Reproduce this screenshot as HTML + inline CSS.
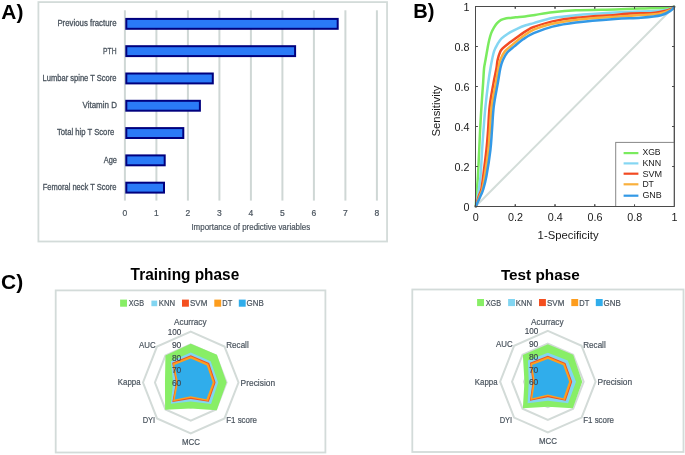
<!DOCTYPE html>
<html><head><meta charset="utf-8"><style>
html,body{margin:0;padding:0;background:#fff;width:685px;height:455px;overflow:hidden}
svg{display:block;filter:blur(0.35px);font-family:"Liberation Sans", sans-serif}
</style></head><body>
<svg width="685" height="455" viewBox="0 0 685 455">
<rect width="685" height="455" fill="#fff"/>
<text x="1.30" y="18.90" font-size="21" fill="#000" text-anchor="start" font-weight="bold" textLength="22.10" lengthAdjust="spacingAndGlyphs">A)</text>
<rect x="38.4" y="2.1" width="348.65" height="239.4" fill="#fff" stroke="#d3dbd9" stroke-width="1.8"/>
<line x1="124.90" y1="10.3" x2="124.90" y2="200.6" stroke="#cfd7d5" stroke-width="2"/>
<line x1="156.40" y1="10.3" x2="156.40" y2="200.6" stroke="#cfd7d5" stroke-width="2"/>
<line x1="187.90" y1="10.3" x2="187.90" y2="200.6" stroke="#cfd7d5" stroke-width="2"/>
<line x1="219.40" y1="10.3" x2="219.40" y2="200.6" stroke="#cfd7d5" stroke-width="2"/>
<line x1="250.90" y1="10.3" x2="250.90" y2="200.6" stroke="#cfd7d5" stroke-width="2"/>
<line x1="282.40" y1="10.3" x2="282.40" y2="200.6" stroke="#cfd7d5" stroke-width="2"/>
<line x1="313.90" y1="10.3" x2="313.90" y2="200.6" stroke="#cfd7d5" stroke-width="2"/>
<line x1="345.40" y1="10.3" x2="345.40" y2="200.6" stroke="#cfd7d5" stroke-width="2"/>
<line x1="376.90" y1="10.3" x2="376.90" y2="200.6" stroke="#cfd7d5" stroke-width="2"/>
<rect x="126.30" y="18.90" width="211.40" height="9.90" fill="#2a7af7" stroke="#00007e" stroke-width="2"/>
<rect x="126.30" y="46.20" width="168.80" height="9.90" fill="#2a7af7" stroke="#00007e" stroke-width="2"/>
<rect x="126.30" y="73.50" width="86.50" height="9.90" fill="#2a7af7" stroke="#00007e" stroke-width="2"/>
<rect x="126.30" y="100.80" width="73.60" height="9.90" fill="#2a7af7" stroke="#00007e" stroke-width="2"/>
<rect x="126.30" y="128.10" width="57.00" height="9.90" fill="#2a7af7" stroke="#00007e" stroke-width="2"/>
<rect x="126.30" y="155.40" width="38.40" height="9.90" fill="#2a7af7" stroke="#00007e" stroke-width="2"/>
<rect x="126.30" y="182.70" width="37.70" height="9.90" fill="#2a7af7" stroke="#00007e" stroke-width="2"/>
<text x="57.40" y="26.40" font-size="8.5" fill="#4a545e" text-anchor="start" textLength="59.10" lengthAdjust="spacingAndGlyphs" stroke="#4a545e" stroke-width="0.3">Previous fracture</text>
<text x="103.10" y="53.80" font-size="8.5" fill="#4a545e" text-anchor="start" textLength="13.40" lengthAdjust="spacingAndGlyphs" stroke="#4a545e" stroke-width="0.3">PTH</text>
<text x="42.60" y="81.10" font-size="8.5" fill="#4a545e" text-anchor="start" textLength="73.90" lengthAdjust="spacingAndGlyphs" stroke="#4a545e" stroke-width="0.3">Lumbar spine T Score</text>
<text x="82.50" y="108.30" font-size="8.5" fill="#4a545e" text-anchor="start" textLength="34.40" lengthAdjust="spacingAndGlyphs" stroke="#4a545e" stroke-width="0.3">Vitamin D</text>
<text x="57.00" y="135.20" font-size="8.5" fill="#4a545e" text-anchor="start" textLength="57.20" lengthAdjust="spacingAndGlyphs" stroke="#4a545e" stroke-width="0.3">Total hip T Score</text>
<text x="103.70" y="163.00" font-size="8.5" fill="#4a545e" text-anchor="start" textLength="13.20" lengthAdjust="spacingAndGlyphs" stroke="#4a545e" stroke-width="0.3">Age</text>
<text x="42.70" y="190.10" font-size="8.5" fill="#4a545e" text-anchor="start" textLength="73.80" lengthAdjust="spacingAndGlyphs" stroke="#4a545e" stroke-width="0.3">Femoral neck T Score</text>
<text x="124.90" y="216.00" font-size="8.5" fill="#4a545e" text-anchor="middle" stroke="#4a545e" stroke-width="0.2">0</text>
<text x="156.40" y="216.00" font-size="8.5" fill="#4a545e" text-anchor="middle" stroke="#4a545e" stroke-width="0.2">1</text>
<text x="187.90" y="216.00" font-size="8.5" fill="#4a545e" text-anchor="middle" stroke="#4a545e" stroke-width="0.2">2</text>
<text x="219.40" y="216.00" font-size="8.5" fill="#4a545e" text-anchor="middle" stroke="#4a545e" stroke-width="0.2">3</text>
<text x="250.90" y="216.00" font-size="8.5" fill="#4a545e" text-anchor="middle" stroke="#4a545e" stroke-width="0.2">4</text>
<text x="282.40" y="216.00" font-size="8.5" fill="#4a545e" text-anchor="middle" stroke="#4a545e" stroke-width="0.2">5</text>
<text x="313.90" y="216.00" font-size="8.5" fill="#4a545e" text-anchor="middle" stroke="#4a545e" stroke-width="0.2">6</text>
<text x="345.40" y="216.00" font-size="8.5" fill="#4a545e" text-anchor="middle" stroke="#4a545e" stroke-width="0.2">7</text>
<text x="376.90" y="216.00" font-size="8.5" fill="#4a545e" text-anchor="middle" stroke="#4a545e" stroke-width="0.2">8</text>
<text x="191.40" y="230.30" font-size="8.7" fill="#4a545e" text-anchor="start" textLength="118.80" lengthAdjust="spacingAndGlyphs" stroke="#4a545e" stroke-width="0.2">Importance of predictive variables</text>
<text x="413.30" y="17.90" font-size="21" fill="#000" text-anchor="start" font-weight="bold" textLength="21.20" lengthAdjust="spacingAndGlyphs">B)</text>
<line x1="475.5" y1="206.5" x2="674.3" y2="6.5" stroke="#d3ddd9" stroke-width="2"/>
<g fill="none" stroke-width="2.5" stroke-linejoin="round" stroke-linecap="round">
<path d="M475.80,206.30 C475.90,204.58 476.05,201.00 476.40,196.00 C476.75,191.00 477.43,183.97 477.90,176.30 C478.37,168.63 478.83,157.72 479.20,150.00 C479.57,142.28 479.72,137.30 480.10,130.00 C480.48,122.70 481.00,114.02 481.50,106.20 C482.00,98.38 482.67,89.47 483.10,83.10 C483.53,76.73 483.70,71.85 484.10,68.00 C484.50,64.15 484.92,63.33 485.50,60.00 C486.08,56.67 486.98,51.33 487.60,48.00 C488.22,44.67 488.60,42.48 489.20,40.00 C489.80,37.52 490.43,35.13 491.20,33.10 C491.97,31.07 492.82,29.45 493.80,27.80 C494.78,26.15 495.88,24.52 497.10,23.20 C498.32,21.88 499.55,20.73 501.10,19.90 C502.65,19.07 504.92,18.53 506.40,18.20 C507.88,17.87 508.43,18.07 510.00,17.90 C511.57,17.73 513.30,17.45 515.80,17.20 C518.30,16.95 521.80,16.78 525.00,16.40 C528.20,16.02 530.42,15.60 535.00,14.90 C539.58,14.20 545.68,12.97 552.50,12.20 C559.32,11.43 565.48,10.77 575.90,10.30 C586.32,9.83 604.20,9.68 615.00,9.40 C625.80,9.12 632.17,8.85 640.70,8.60 C649.23,8.35 660.65,8.20 666.20,7.90 C671.75,7.60 672.70,6.98 674.00,6.80" stroke="#7aeb5e"/>
<path d="M475.80,206.30 C476.15,204.58 477.12,201.00 477.90,196.00 C478.68,191.00 479.80,183.97 480.50,176.30 C481.20,168.63 481.60,157.72 482.10,150.00 C482.60,142.28 482.93,137.30 483.50,130.00 C484.07,122.70 484.72,114.02 485.50,106.20 C486.28,98.38 487.37,89.47 488.20,83.10 C489.03,76.73 489.65,72.85 490.50,68.00 C491.35,63.15 492.48,57.32 493.30,54.00 C494.12,50.68 494.28,50.40 495.40,48.10 C496.52,45.80 498.40,42.25 500.00,40.20 C501.60,38.15 503.33,37.10 505.00,35.80 C506.67,34.50 508.00,33.57 510.00,32.40 C512.00,31.23 514.37,29.98 517.00,28.80 C519.63,27.62 523.02,26.25 525.80,25.30 C528.58,24.35 529.25,24.30 533.70,23.10 C538.15,21.90 545.47,19.40 552.50,18.10 C559.53,16.80 565.48,16.22 575.90,15.30 C586.32,14.38 604.20,13.25 615.00,12.60 C625.80,11.95 633.87,11.67 640.70,11.40 C647.53,11.13 651.92,11.25 656.00,11.00 C660.08,10.75 662.48,10.38 665.20,9.90 C667.92,9.42 670.83,8.62 672.30,8.10 C673.77,7.58 673.72,7.02 674.00,6.80" stroke="#84d6f2"/>
<path d="M475.80,206.30 C476.32,204.58 477.98,198.80 478.90,196.00 C479.82,193.20 480.58,192.78 481.30,189.50 C482.02,186.22 482.35,182.88 483.20,176.30 C484.05,169.72 485.58,157.72 486.40,150.00 C487.22,142.28 487.55,137.30 488.10,130.00 C488.65,122.70 488.80,114.02 489.70,106.20 C490.60,98.38 492.37,89.47 493.50,83.10 C494.63,76.73 495.82,71.85 496.50,68.00 C497.18,64.15 496.97,62.73 497.60,60.00 C498.23,57.27 499.42,53.58 500.30,51.60 C501.18,49.62 501.58,49.42 502.90,48.10 C504.22,46.78 506.30,45.17 508.20,43.70 C510.10,42.23 512.10,40.90 514.30,39.30 C516.50,37.70 519.05,35.70 521.40,34.10 C523.75,32.50 526.35,30.88 528.40,29.70 C530.45,28.52 529.68,28.38 533.70,27.00 C537.72,25.62 545.47,22.93 552.50,21.40 C559.53,19.87 565.48,18.88 575.90,17.80 C586.32,16.72 605.92,15.62 615.00,14.90 C624.08,14.18 624.42,13.78 630.40,13.50 C636.38,13.22 645.78,13.50 650.90,13.20 C656.02,12.90 657.70,12.42 661.10,11.70 C664.50,10.98 669.15,9.72 671.30,8.90 C673.45,8.08 673.55,7.15 674.00,6.80" stroke="#f24a22"/>
<path d="M475.80,206.30 C476.45,204.58 478.62,198.80 479.70,196.00 C480.78,193.20 481.47,192.78 482.30,189.50 C483.13,186.22 483.68,182.88 484.70,176.30 C485.72,169.72 487.53,157.72 488.40,150.00 C489.27,142.28 489.35,137.30 489.90,130.00 C490.45,122.70 490.72,114.02 491.70,106.20 C492.68,98.38 494.68,89.47 495.80,83.10 C496.92,76.73 497.65,71.85 498.40,68.00 C499.15,64.15 499.25,62.73 500.30,60.00 C501.35,57.27 502.65,54.17 504.70,51.60 C506.75,49.03 509.82,46.93 512.60,44.60 C515.38,42.27 517.88,40.08 521.40,37.60 C524.92,35.12 528.52,32.02 533.70,29.70 C538.88,27.38 545.47,25.33 552.50,23.70 C559.53,22.07 565.48,21.07 575.90,19.90 C586.32,18.73 604.20,17.50 615.00,16.70 C625.80,15.90 633.37,15.60 640.70,15.10 C648.03,14.60 653.90,14.62 659.00,13.70 C664.10,12.78 668.80,10.75 671.30,9.60 C673.80,8.45 673.55,7.27 674.00,6.80" stroke="#f9b03c"/>
<path d="M475.80,206.30 C476.58,204.58 479.27,198.80 480.50,196.00 C481.73,193.20 482.22,192.78 483.20,189.50 C484.18,186.22 485.20,182.88 486.40,176.30 C487.60,169.72 489.47,157.72 490.40,150.00 C491.33,142.28 491.43,137.30 492.00,130.00 C492.57,122.70 492.83,114.02 493.80,106.20 C494.77,98.38 496.70,89.47 497.80,83.10 C498.90,76.73 499.55,71.85 500.40,68.00 C501.25,64.15 501.75,62.58 502.90,60.00 C504.05,57.42 505.40,54.77 507.30,52.50 C509.20,50.23 511.67,48.60 514.30,46.40 C516.93,44.20 519.87,41.50 523.10,39.30 C526.33,37.10 528.80,35.32 533.70,33.20 C538.60,31.08 545.47,28.38 552.50,26.60 C559.53,24.82 565.48,23.77 575.90,22.50 C586.32,21.23 604.20,19.78 615.00,19.00 C625.80,18.22 633.02,18.42 640.70,17.80 C648.38,17.18 656.00,16.57 661.10,15.30 C666.20,14.03 669.15,11.62 671.30,10.20 C673.45,8.78 673.55,7.37 674.00,6.80" stroke="#3399e6"/>
</g>
<rect x="475.5" y="6.5" width="198.8" height="200.0" fill="none" stroke="#4a4a4a" stroke-width="1"/>
<path d="M515.26,206.5 v-2.2 M515.26,6.5 v2.2 M475.5,166.50 h2.2 M674.3,166.50 h-2.2 M555.02,206.5 v-2.2 M555.02,6.5 v2.2 M475.5,126.50 h2.2 M674.3,126.50 h-2.2 M594.78,206.5 v-2.2 M594.78,6.5 v2.2 M475.5,86.50 h2.2 M674.3,86.50 h-2.2 M634.54,206.5 v-2.2 M634.54,6.5 v2.2 M475.5,46.50 h2.2 M674.3,46.50 h-2.2" stroke="#4a4a4a" stroke-width="1" fill="none"/>
<text x="463.40" y="210.90" font-size="10.3" fill="#1a1a1a" text-anchor="start" textLength="6.00" lengthAdjust="spacingAndGlyphs">0</text>
<text x="472.80" y="220.80" font-size="10.3" fill="#1a1a1a" text-anchor="start" textLength="6.00" lengthAdjust="spacingAndGlyphs">0</text>
<text x="454.40" y="170.90" font-size="10.3" fill="#1a1a1a" text-anchor="start" textLength="15.00" lengthAdjust="spacingAndGlyphs">0.2</text>
<text x="508.06" y="220.80" font-size="10.3" fill="#1a1a1a" text-anchor="start" textLength="15.00" lengthAdjust="spacingAndGlyphs">0.2</text>
<text x="454.40" y="130.90" font-size="10.3" fill="#1a1a1a" text-anchor="start" textLength="15.00" lengthAdjust="spacingAndGlyphs">0.4</text>
<text x="547.82" y="220.80" font-size="10.3" fill="#1a1a1a" text-anchor="start" textLength="15.00" lengthAdjust="spacingAndGlyphs">0.4</text>
<text x="454.40" y="90.90" font-size="10.3" fill="#1a1a1a" text-anchor="start" textLength="15.00" lengthAdjust="spacingAndGlyphs">0.6</text>
<text x="587.58" y="220.80" font-size="10.3" fill="#1a1a1a" text-anchor="start" textLength="15.00" lengthAdjust="spacingAndGlyphs">0.6</text>
<text x="454.40" y="50.90" font-size="10.3" fill="#1a1a1a" text-anchor="start" textLength="15.00" lengthAdjust="spacingAndGlyphs">0.8</text>
<text x="627.34" y="220.80" font-size="10.3" fill="#1a1a1a" text-anchor="start" textLength="15.00" lengthAdjust="spacingAndGlyphs">0.8</text>
<text x="463.40" y="10.90" font-size="10.3" fill="#1a1a1a" text-anchor="start" textLength="6.00" lengthAdjust="spacingAndGlyphs">1</text>
<text x="671.60" y="220.80" font-size="10.3" fill="#1a1a1a" text-anchor="start" textLength="6.00" lengthAdjust="spacingAndGlyphs">1</text>
<text x="537.60" y="238.50" font-size="11" fill="#1a1a1a" text-anchor="start" textLength="61.00" lengthAdjust="spacingAndGlyphs">1-Specificity</text>
<text transform="translate(439.9,111) rotate(-90)" font-size="11" fill="#1a1a1a" text-anchor="middle" textLength="51" lengthAdjust="spacingAndGlyphs">Sensitivity</text>
<rect x="615.7" y="142.4" width="58.6" height="64.1" fill="#fff" stroke="#888" stroke-width="1"/>
<line x1="623.6" y1="153.1" x2="638.4" y2="153.1" stroke="#7aeb5e" stroke-width="2.2"/>
<text x="642.40" y="155.30" font-size="8.8" fill="#1a1a1a" text-anchor="start" textLength="18.20" lengthAdjust="spacingAndGlyphs">XGB</text>
<line x1="623.6" y1="163.4" x2="638.4" y2="163.4" stroke="#84d6f2" stroke-width="2.2"/>
<text x="642.40" y="165.80" font-size="8.8" fill="#1a1a1a" text-anchor="start" textLength="18.80" lengthAdjust="spacingAndGlyphs">KNN</text>
<line x1="623.6" y1="173.7" x2="638.4" y2="173.7" stroke="#f24a22" stroke-width="2.2"/>
<text x="642.40" y="176.60" font-size="8.8" fill="#1a1a1a" text-anchor="start" textLength="19.70" lengthAdjust="spacingAndGlyphs">SVM</text>
<line x1="623.6" y1="184.3" x2="638.4" y2="184.3" stroke="#f9b03c" stroke-width="2.2"/>
<text x="642.40" y="187.10" font-size="8.8" fill="#1a1a1a" text-anchor="start" textLength="11.50" lengthAdjust="spacingAndGlyphs">DT</text>
<line x1="623.6" y1="195.7" x2="638.4" y2="195.7" stroke="#3399e6" stroke-width="2.2"/>
<text x="642.40" y="197.90" font-size="8.8" fill="#1a1a1a" text-anchor="start" textLength="19.40" lengthAdjust="spacingAndGlyphs">GNB</text>
<path d="M674.3,6.5 V206.5 H475.5" stroke="#4a4a4a" stroke-width="1" fill="none"/>
<path d="M515.26,206.5 v-2.2 M515.26,6.5 v2.2 M475.5,166.50 h2.2 M674.3,166.50 h-2.2 M555.02,206.5 v-2.2 M555.02,6.5 v2.2 M475.5,126.50 h2.2 M674.3,126.50 h-2.2 M594.78,206.5 v-2.2 M594.78,6.5 v2.2 M475.5,86.50 h2.2 M674.3,86.50 h-2.2 M634.54,206.5 v-2.2 M634.54,6.5 v2.2 M475.5,46.50 h2.2 M674.3,46.50 h-2.2" stroke="#4a4a4a" stroke-width="1" fill="none"/>
<text x="1.10" y="289.30" font-size="21" fill="#000" text-anchor="start" font-weight="bold" textLength="22.10" lengthAdjust="spacingAndGlyphs">C)</text>
<text x="130.60" y="279.90" font-size="15.6" fill="#000" text-anchor="start" font-weight="bold" textLength="108.60" lengthAdjust="spacingAndGlyphs">Training phase</text>
<text x="500.90" y="279.90" font-size="15.4" fill="#000" text-anchor="start" font-weight="bold" textLength="78.80" lengthAdjust="spacingAndGlyphs">Test phase</text>
<rect x="55.7" y="290.4" width="269.7" height="162.1" fill="#fff" stroke="#d3dbd9" stroke-width="1.8"/>
<rect x="412.3" y="289.5" width="271.2" height="162.5" fill="#fff" stroke="#d3dbd9" stroke-width="1.8"/>
<polygon points="190.75,369.80 199.19,373.52 202.69,382.50 199.19,391.48 190.75,395.20 182.31,391.48 178.81,382.50 182.31,373.52" fill="none" stroke="#d3dbd8" stroke-width="2"/>
<polygon points="190.75,357.10 207.63,364.54 214.62,382.50 207.63,400.46 190.75,407.90 173.87,400.46 166.88,382.50 173.87,364.54" fill="none" stroke="#d3dbd8" stroke-width="2"/>
<polygon points="190.75,344.40 216.07,355.56 226.56,382.50 216.07,409.44 190.75,420.60 165.43,409.44 154.94,382.50 165.43,355.56" fill="none" stroke="#d3dbd8" stroke-width="2"/>
<polygon points="190.75,331.70 224.51,346.58 238.50,382.50 224.51,418.42 190.75,433.30 156.99,418.42 143.00,382.50 156.99,346.58" fill="none" stroke="#d3dbd8" stroke-width="2"/>
<polygon points="190.75,343.64 216.92,354.66 226.56,382.50 216.75,410.16 190.75,408.41 165.09,409.80 164.97,382.50 165.43,355.56" fill="#88ee66"/>
<polygon points="190.75,352.53 210.67,361.31 218.21,382.50 211.01,404.05 190.75,401.55 170.83,403.69 173.08,382.50 170.83,361.31" fill="#82d5f1"/>
<polygon points="190.75,355.32 209.15,362.92 215.58,382.50 208.81,401.72 190.75,399.01 172.35,402.08 175.95,382.50 172.18,362.74" fill="#f44f1f"/>
<polygon points="190.75,356.34 208.31,363.82 214.62,382.50 208.14,401.00 190.75,397.74 173.02,401.36 176.43,382.50 172.85,363.46" fill="#fd9d1e"/>
<polygon points="190.75,358.62 206.79,365.44 212.72,382.50 206.45,399.20 190.75,396.22 174.71,399.56 178.10,382.50 174.37,365.08" fill="#30adeb"/>
<rect x="120.10" y="299.60" width="6.9" height="7.1" fill="#88ee66"/>
<text x="128.70" y="306.10" font-size="8.6" fill="#4a545e" text-anchor="start" textLength="15.30" lengthAdjust="spacingAndGlyphs" stroke="#4a545e" stroke-width="0.2">XGB</text>
<rect x="151.40" y="300.60" width="5.8" height="5.6" fill="#82d5f1"/>
<text x="158.80" y="306.10" font-size="8.6" fill="#4a545e" text-anchor="start" textLength="16.40" lengthAdjust="spacingAndGlyphs" stroke="#4a545e" stroke-width="0.2">KNN</text>
<rect x="182.00" y="299.60" width="6.9" height="7.1" fill="#f44f1f"/>
<text x="190.00" y="306.10" font-size="8.6" fill="#4a545e" text-anchor="start" textLength="17.30" lengthAdjust="spacingAndGlyphs" stroke="#4a545e" stroke-width="0.2">SVM</text>
<rect x="214.30" y="299.60" width="6.9" height="7.1" fill="#fd9d1e"/>
<text x="222.30" y="306.10" font-size="8.6" fill="#4a545e" text-anchor="start" textLength="10.00" lengthAdjust="spacingAndGlyphs" stroke="#4a545e" stroke-width="0.2">DT</text>
<rect x="238.80" y="299.60" width="6.9" height="7.1" fill="#30adeb"/>
<text x="246.60" y="306.10" font-size="8.6" fill="#4a545e" text-anchor="start" textLength="17.20" lengthAdjust="spacingAndGlyphs" stroke="#4a545e" stroke-width="0.2">GNB</text>
<text x="174.10" y="325.30" font-size="9" fill="#4a545e" text-anchor="start" textLength="32.40" lengthAdjust="spacingAndGlyphs" stroke="#4a545e" stroke-width="0.2">Acurracy</text>
<text x="226.30" y="348.20" font-size="9" fill="#4a545e" text-anchor="start" textLength="22.40" lengthAdjust="spacingAndGlyphs" stroke="#4a545e" stroke-width="0.2">Recall</text>
<text x="240.60" y="385.70" font-size="9" fill="#4a545e" text-anchor="start" textLength="34.50" lengthAdjust="spacingAndGlyphs" stroke="#4a545e" stroke-width="0.2">Precision</text>
<text x="226.20" y="423.10" font-size="9" fill="#4a545e" text-anchor="start" textLength="30.80" lengthAdjust="spacingAndGlyphs" stroke="#4a545e" stroke-width="0.2">F1 score</text>
<text x="182.00" y="445.00" font-size="9" fill="#4a545e" text-anchor="start" textLength="18.00" lengthAdjust="spacingAndGlyphs" stroke="#4a545e" stroke-width="0.2">MCC</text>
<text x="142.70" y="423.10" font-size="9" fill="#4a545e" text-anchor="start" textLength="12.50" lengthAdjust="spacingAndGlyphs" stroke="#4a545e" stroke-width="0.2">DYI</text>
<text x="117.80" y="385.40" font-size="9" fill="#4a545e" text-anchor="start" textLength="22.70" lengthAdjust="spacingAndGlyphs" stroke="#4a545e" stroke-width="0.2">Kappa</text>
<text x="139.00" y="348.00" font-size="9" fill="#4a545e" text-anchor="start" textLength="16.60" lengthAdjust="spacingAndGlyphs" stroke="#4a545e" stroke-width="0.2">AUC</text>
<text x="167.70" y="335.00" font-size="8.8" fill="#3e4650" text-anchor="start" textLength="13.60" lengthAdjust="spacingAndGlyphs" stroke="#3e4650" stroke-width="0.15">100</text>
<text x="171.90" y="347.75" font-size="8.8" fill="#3e4650" text-anchor="start" textLength="9.40" lengthAdjust="spacingAndGlyphs" stroke="#3e4650" stroke-width="0.15">90</text>
<text x="171.90" y="360.50" font-size="8.8" fill="#3e4650" text-anchor="start" textLength="9.40" lengthAdjust="spacingAndGlyphs" stroke="#3e4650" stroke-width="0.15">80</text>
<text x="171.90" y="373.25" font-size="8.8" fill="#3e4650" text-anchor="start" textLength="9.40" lengthAdjust="spacingAndGlyphs" stroke="#3e4650" stroke-width="0.15">70</text>
<text x="171.90" y="386.00" font-size="8.8" fill="#3e4650" text-anchor="start" textLength="9.40" lengthAdjust="spacingAndGlyphs" stroke="#3e4650" stroke-width="0.15">60</text>
<polygon points="547.85,369.00 556.29,372.72 559.79,381.70 556.29,390.68 547.85,394.40 539.41,390.68 535.91,381.70 539.41,372.72" fill="none" stroke="#d3dbd8" stroke-width="2"/>
<polygon points="547.85,356.30 564.73,363.74 571.73,381.70 564.73,399.66 547.85,407.10 530.97,399.66 523.98,381.70 530.97,363.74" fill="none" stroke="#d3dbd8" stroke-width="2"/>
<polygon points="547.85,343.60 573.17,354.76 583.66,381.70 573.17,408.64 547.85,419.80 522.53,408.64 512.04,381.70 522.53,354.76" fill="none" stroke="#d3dbd8" stroke-width="2"/>
<polygon points="547.85,330.90 581.61,345.78 595.60,381.70 581.61,417.62 547.85,432.50 514.09,417.62 500.10,381.70 514.09,345.78" fill="none" stroke="#d3dbd8" stroke-width="2"/>
<polygon points="547.85,344.31 573.17,354.76 582.23,381.70 572.84,408.28 547.85,406.85 522.86,408.28 524.45,381.70 522.86,355.12" fill="#88ee66"/>
<polygon points="547.85,352.74 567.77,360.51 576.02,381.70 568.11,403.25 547.85,400.75 527.59,403.25 528.75,381.70 527.93,360.51" fill="#82d5f1"/>
<polygon points="547.85,355.79 565.41,363.02 572.20,381.70 565.75,400.74 547.85,397.19 529.95,400.74 532.57,381.70 529.95,362.66" fill="#f44f1f"/>
<polygon points="547.85,356.81 564.73,363.74 571.25,381.70 565.07,400.02 547.85,395.92 530.63,400.02 533.29,381.70 530.63,363.38" fill="#fd9d1e"/>
<polygon points="547.85,359.09 563.21,365.36 569.10,381.70 563.38,398.22 547.85,394.40 532.32,398.22 534.96,381.70 532.15,365.00" fill="#30adeb"/>
<rect x="477.10" y="299.00" width="6.9" height="7.1" fill="#88ee66"/>
<text x="485.70" y="305.50" font-size="8.6" fill="#4a545e" text-anchor="start" textLength="15.30" lengthAdjust="spacingAndGlyphs" stroke="#4a545e" stroke-width="0.2">XGB</text>
<rect x="508.10" y="299.00" width="6.9" height="7.1" fill="#82d5f1"/>
<text x="515.80" y="305.50" font-size="8.6" fill="#4a545e" text-anchor="start" textLength="16.40" lengthAdjust="spacingAndGlyphs" stroke="#4a545e" stroke-width="0.2">KNN</text>
<rect x="539.00" y="299.00" width="6.9" height="7.1" fill="#f44f1f"/>
<text x="547.00" y="305.50" font-size="8.6" fill="#4a545e" text-anchor="start" textLength="17.30" lengthAdjust="spacingAndGlyphs" stroke="#4a545e" stroke-width="0.2">SVM</text>
<rect x="571.30" y="299.00" width="6.9" height="7.1" fill="#fd9d1e"/>
<text x="579.30" y="305.50" font-size="8.6" fill="#4a545e" text-anchor="start" textLength="10.00" lengthAdjust="spacingAndGlyphs" stroke="#4a545e" stroke-width="0.2">DT</text>
<rect x="595.80" y="299.00" width="6.9" height="7.1" fill="#30adeb"/>
<text x="603.60" y="305.50" font-size="8.6" fill="#4a545e" text-anchor="start" textLength="17.20" lengthAdjust="spacingAndGlyphs" stroke="#4a545e" stroke-width="0.2">GNB</text>
<text x="531.10" y="324.70" font-size="9" fill="#4a545e" text-anchor="start" textLength="32.40" lengthAdjust="spacingAndGlyphs" stroke="#4a545e" stroke-width="0.2">Acurracy</text>
<text x="583.30" y="347.60" font-size="9" fill="#4a545e" text-anchor="start" textLength="22.40" lengthAdjust="spacingAndGlyphs" stroke="#4a545e" stroke-width="0.2">Recall</text>
<text x="597.60" y="385.10" font-size="9" fill="#4a545e" text-anchor="start" textLength="34.50" lengthAdjust="spacingAndGlyphs" stroke="#4a545e" stroke-width="0.2">Precision</text>
<text x="583.20" y="422.50" font-size="9" fill="#4a545e" text-anchor="start" textLength="30.80" lengthAdjust="spacingAndGlyphs" stroke="#4a545e" stroke-width="0.2">F1 score</text>
<text x="539.00" y="444.40" font-size="9" fill="#4a545e" text-anchor="start" textLength="18.00" lengthAdjust="spacingAndGlyphs" stroke="#4a545e" stroke-width="0.2">MCC</text>
<text x="499.70" y="422.50" font-size="9" fill="#4a545e" text-anchor="start" textLength="12.50" lengthAdjust="spacingAndGlyphs" stroke="#4a545e" stroke-width="0.2">DYI</text>
<text x="474.80" y="384.80" font-size="9" fill="#4a545e" text-anchor="start" textLength="22.70" lengthAdjust="spacingAndGlyphs" stroke="#4a545e" stroke-width="0.2">Kappa</text>
<text x="496.00" y="347.40" font-size="9" fill="#4a545e" text-anchor="start" textLength="16.60" lengthAdjust="spacingAndGlyphs" stroke="#4a545e" stroke-width="0.2">AUC</text>
<text x="524.70" y="334.40" font-size="8.8" fill="#3e4650" text-anchor="start" textLength="13.60" lengthAdjust="spacingAndGlyphs" stroke="#3e4650" stroke-width="0.15">100</text>
<text x="528.90" y="347.15" font-size="8.8" fill="#3e4650" text-anchor="start" textLength="9.40" lengthAdjust="spacingAndGlyphs" stroke="#3e4650" stroke-width="0.15">90</text>
<text x="528.90" y="359.90" font-size="8.8" fill="#3e4650" text-anchor="start" textLength="9.40" lengthAdjust="spacingAndGlyphs" stroke="#3e4650" stroke-width="0.15">80</text>
<text x="528.90" y="372.65" font-size="8.8" fill="#3e4650" text-anchor="start" textLength="9.40" lengthAdjust="spacingAndGlyphs" stroke="#3e4650" stroke-width="0.15">70</text>
<text x="528.90" y="385.40" font-size="8.8" fill="#3e4650" text-anchor="start" textLength="9.40" lengthAdjust="spacingAndGlyphs" stroke="#3e4650" stroke-width="0.15">60</text>
</svg>
</body></html>
